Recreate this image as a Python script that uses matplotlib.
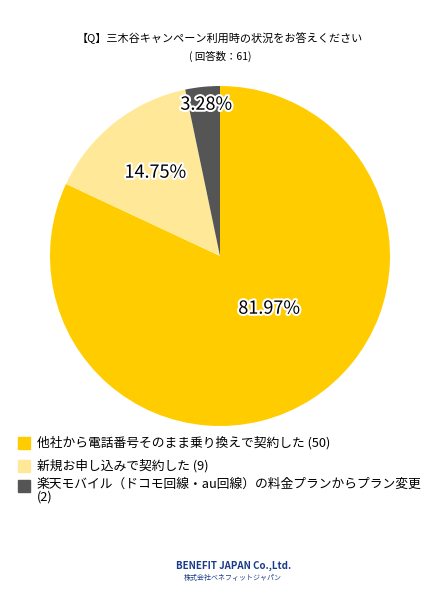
import matplotlib
matplotlib.use("Agg")
import matplotlib.pyplot as plt
import matplotlib.patheffects as pe
from matplotlib.patches import Rectangle

plt.rcParams['font.family'] = ['Noto Sans CJK JP', 'DejaVu Sans']

labels = ["他社から電話番号そのまま乗り換えで契約した (50)",
          "新規お申し込みで契約した (9)",
          "楽天モバイル（ドコモ回線・au回線）の料金プランからプラン変更\n(2)"]
values = [50, 9, 2]
colors = ["#FFCC00", "#FFE999", "#555555"]
pcts = ["81.97%", "14.75%", "3.28%"]

fig = plt.figure(figsize=(4.4, 6.0), dpi=100)
fig.text(0.5, 1 - 38/600, "【Q】三木谷キャンペーン利用時の状況をお答えください", ha='center', va='center', fontsize=8)
fig.text(0.5, 1 - 56/600, "( 回答数：61)", ha='center', va='center', fontsize=7.5)

ax = fig.add_axes([0.5 - 170/440, 1 - (256+170)/600, 340/440, 340/600])
wedges, _ = ax.pie(values, colors=colors, startangle=90, counterclock=False, radius=1)
ax.set_xlim(-1, 1); ax.set_ylim(-1, 1)
ax.set_aspect('equal')
pos = [(0.29, -0.31), (-0.38, 0.49), (-0.08, 0.89)]
for (x, y), t in zip(pos, pcts):
    ax.text(x, y, t, ha='center', va='center', fontsize=13,
            path_effects=[pe.withStroke(linewidth=3, foreground='white')])

ys = [443, 466, 486]
for y, c, l in zip(ys, colors, labels):
    fig.patches.append(Rectangle((18/440, 1 - (y+6)/600), 12/440, 12/600, color=c, transform=fig.transFigure))
    if '\n' in l:
        fig.text(37/440, 1 - (y-8)/600, l, fontsize=9.2, va='top', linespacing=1.0)
    else:
        fig.text(37/440, 1 - y/600, l, fontsize=9.2, va='center')

fig.text(0.53, 1 - 566/600, "BENEFIT JAPAN Co.,Ltd.", ha='center', va='center', fontsize=7, fontweight='bold', color='#1a3a8a')
fig.text(0.53, 1 - 578/600, "株式会社ベネフィットジャパン", ha='center', va='center', fontsize=5, color='#1a3a8a')
fig.savefig("out.png", dpi=100)
